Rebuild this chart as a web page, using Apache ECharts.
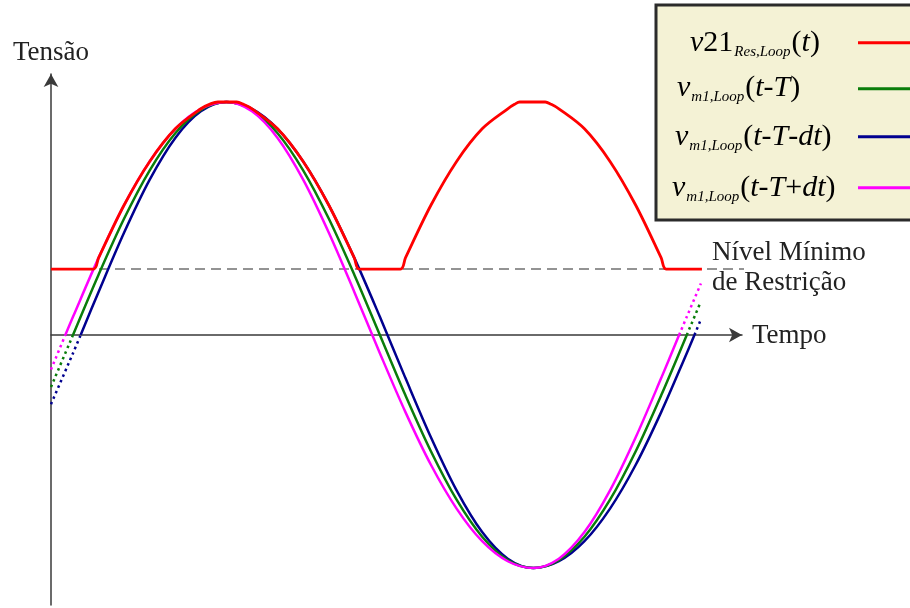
<!DOCTYPE html>
<html>
<head>
<meta charset="utf-8">
<title>Nível Mínimo de Restrição</title>
<script src="https://cdn.jsdelivr.net/npm/echarts@6/dist/echarts.min.js"></script>
<style>
  html, body { margin: 0; padding: 0; background: #fff; }
  #container { width: 910px; height: 608px; }
</style>
</head>
<body>
<div id="container"></div>
<script type="text/javascript">
// tempo em graus (0 = cruzamento por zero de v_m1(t-T)), tensão normalizada
var tMin = -12.9, tMax = 392.4;
var nivelMinimo = 0.283;
var nivelFim = 448;

var vRes = [[-12.9, 0.283], [12.1, 0.283], [15, 0.331], [30, 0.558], [45, 0.745], [60, 0.885], [75, 0.971],
  [81, 0.993], [85, 1], [96, 1], [100, 0.99], [105, 0.971], [120, 0.885], [135, 0.745], [150, 0.558], [165, 0.331], [167.9, 0.283],
  [192.1, 0.283], [195, 0.331], [210, 0.558], [225, 0.745], [240, 0.885], [255, 0.971], [259, 0.99], [262, 1], [277, 1],
  [280.5, 0.99], [285, 0.971], [300, 0.885], [315, 0.745], [330, 0.558], [345, 0.331], [347.9, 0.283], [368.9, 0.283]];

var vM1 = [[0, 0], [15, 0.259], [30, 0.5], [45, 0.707], [60, 0.866], [75, 0.966], [90, 1], [105, 0.966],
  [120, 0.866], [135, 0.707], [150, 0.5], [165, 0.259], [180, 0], [195, -0.259], [210, -0.5], [225, -0.707],
  [240, -0.866], [255, -0.966], [270, -1], [285, -0.966], [300, -0.866], [315, -0.707], [330, -0.5],
  [345, -0.259], [360, 0]];
var vM1Ini = [[-12.9, -0.223], [0, 0]];
var vM1Fim = [[360, 0], [368.3, 0.144]];

var vM1Menos = [[4.5, 0], [15, 0.185], [30, 0.44], [45, 0.667], [60, 0.846], [75, 0.96], [90, 1], [105, 0.971],
  [120, 0.885], [135, 0.745], [150, 0.558], [165, 0.331], [180, 0.078], [195, -0.185], [210, -0.44],
  [225, -0.667], [240, -0.846], [255, -0.96], [270, -1], [285, -0.971], [300, -0.885], [315, -0.745],
  [330, -0.558], [345, -0.331], [360, -0.078], [364.5, 0]];
var vM1MenosIni = [[-12.9, -0.297], [0, -0.078], [4.5, 0]];
var vM1MenosFim = [[364.5, 0], [368.3, 0.067]];

var vM1Mais = [[-4.5, 0], [0, 0.078], [15, 0.331], [30, 0.558], [45, 0.745], [60, 0.885], [75, 0.971], [90, 1],
  [105, 0.96], [120, 0.846], [135, 0.667], [150, 0.44], [165, 0.185], [180, -0.078], [195, -0.331],
  [210, -0.558], [225, -0.745], [240, -0.885], [255, -0.971], [270, -1], [285, -0.96], [300, -0.846],
  [315, -0.667], [330, -0.44], [345, -0.185], [355.5, 0]];
var vM1MaisIni = [[-12.9, -0.148], [-4.5, 0]];
var vM1MaisFim = [[355.5, 0], [360, 0.078], [368.3, 0.221]];

var cores = { res: '#ff0000', m1: '#0a7d0a', menos: '#00008f', mais: '#ff00ff' };

function solida(data, cor, w) {
  return { type: 'line', data: data, smooth: 0.33, symbol: 'none', silent: true,
    lineStyle: { color: cor, width: w } };
}
function pontilhada(data, cor) {
  return { type: 'line', data: data, smooth: 0.33, symbol: 'none', silent: true,
    lineStyle: { color: cor, width: 2.5, type: [2.5, 3.5] } };
}

var fonte = 'Liberation Serif';
var rich = {
  i: { fontFamily: fonte, fontStyle: 'italic', fontSize: 30, color: '#222', verticalAlign: 'middle' },
  r: { fontFamily: fonte, fontSize: 30, color: '#222', verticalAlign: 'middle' },
  s: { fontFamily: fonte, fontStyle: 'italic', fontSize: 15, color: '#222', verticalAlign: 'middle',
    padding: [18, 1, 0, 1] }
};
function rotulo(x, y, txt) {
  return { type: 'text', x: x, y: y, z: 102,
    style: { text: txt, rich: rich, verticalAlign: 'middle', align: 'left' } };
}
function amostra(y, cor) {
  return { type: 'line', z: 102, shape: { x1: 858, y1: y, x2: 912, y2: y },
    style: { stroke: cor, lineWidth: 3 } };
}
function texto(x, y, txt) {
  return { type: 'text', x: x, y: y, z: 102,
    style: { text: txt, fontFamily: fonte, fontSize: 27, fill: '#222', verticalAlign: 'middle', align: 'left' } };
}

var dom = document.getElementById('container');
var myChart = echarts.init(dom);
var option = {
  animation: false,
  backgroundColor: '#fff',
  grid: { left: 51, right: 168, top: 74, bottom: 3 },
  xAxis: {
    type: 'value', min: tMin, max: tMax,
    axisLine: { onZero: true, symbol: ['none', 'arrow'], symbolSize: [11, 13],
      lineStyle: { color: '#3a3a3a', width: 1.5 } },
    axisTick: { show: false }, axisLabel: { show: false }, splitLine: { show: false }
  },
  yAxis: {
    type: 'value', min: -1.1588, max: 1.1202,
    axisLine: { show: true, onZero: false, symbol: ['none', 'arrow'], symbolSize: [11, 13],
      lineStyle: { color: '#3a3a3a', width: 1.5 } },
    axisTick: { show: false }, axisLabel: { show: false }, splitLine: { show: false }
  },
  series: [
    { type: 'line', data: [[tMin, nivelMinimo], [nivelFim, nivelMinimo]], clip: false, symbol: 'none',
      silent: true, lineStyle: { color: '#707070', width: 1.5, type: [10, 6] } },
    pontilhada(vM1MenosIni, cores.menos), pontilhada(vM1MenosFim, cores.menos),
    pontilhada(vM1Ini, cores.m1), pontilhada(vM1Fim, cores.m1),
    pontilhada(vM1MaisIni, cores.mais), pontilhada(vM1MaisFim, cores.mais),
    solida(vM1Menos, cores.menos, 2.5),
    solida(vM1, cores.m1, 2.5),
    solida(vM1Mais, cores.mais, 2.5),
    solida(vRes, cores.res, 2.8)
  ],
  graphic: [
    { type: 'rect', z: 100, shape: { x: 656, y: 5, width: 270, height: 215 },
      style: { fill: '#f4f2d5', stroke: '#2b2b2b', lineWidth: 3 } },
    rotulo(690, 43, '{i|v}{r|21}{s|Res,Loop}{r|(}{i|t}{r|)}'),
    rotulo(677, 88, '{i|v}{s|m1,Loop}{r|(}{i|t}{r|-}{i|T}{r|)}'),
    rotulo(675, 137, '{i|v}{s|m1,Loop}{r|(}{i|t}{r|-}{i|T}{r|-}{i|dt}{r|)}'),
    rotulo(672, 188, '{i|v}{s|m1,Loop}{r|(}{i|t}{r|-}{i|T}{r|+}{i|dt}{r|)}'),
    amostra(42.7, cores.res), amostra(88.7, cores.m1), amostra(136.7, cores.menos), amostra(187.7, cores.mais),
    texto(13, 53, 'Tensão'),
    texto(752, 336, 'Tempo'),
    texto(712, 253, 'Nível Mínimo'),
    texto(712, 283, 'de Restrição')
  ]
};
if (option && typeof option === 'object') {
  myChart.setOption(option, true);
}
</script>
</body>
</html>
